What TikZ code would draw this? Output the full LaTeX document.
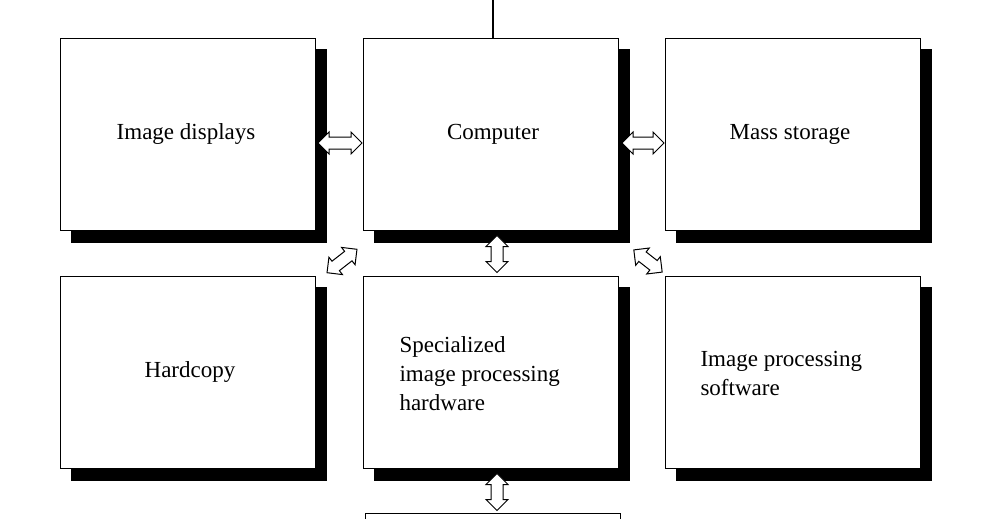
\documentclass[tikz,border=0pt]{standalone}
\usepackage{fontspec}
\setmainfont{Liberation Serif}
\usetikzlibrary{shapes.arrows}
\begin{document}
\begin{tikzpicture}[x=1pt,y=-1pt,
  box/.style={draw,line width=1.3pt,fill=white,minimum width=255pt,minimum height=192pt,anchor=north west,inner sep=0pt},
  shad/.style={fill=black},
  darr/.style={draw,line width=1pt,fill=white,shape=double arrow,double arrow head extend=5pt,inner sep=5.5pt,minimum height=#1},
  lbl/.style={font=\fontsize{23}{29}\selectfont}]
\useasboundingbox (0,0) rectangle (989,519);
\foreach \x/\y in {60/38,363/38,665/38,60/276,363/276,665/276,365/513}
  \fill[shad] (\x+11,\y+11) rectangle (\x+267,\y+205);
\node[box] (disp) at (60,38) {};
\node[box] (comp) at (363,38) {};
\node[box] (mass) at (665,38) {};
\node[box] (hard) at (60,276) {};
\node[box] (spec) at (363,276) {};
\node[box] (soft) at (665,276) {};
\node[box] (bot) at (365,513) {};
\node[lbl] at (186,134) {Image displays};
\node[lbl] at (493,134) {Computer};
\node[lbl] at (790,134) {Mass storage};
\node[lbl] at (190,372) {Hardcopy};
\node[lbl,align=left,anchor=west] at (396,374) {Specialized\\image processing\\hardware};
\node[lbl,align=left,anchor=west] at (697,373) {Image processing\\software};
\coordinate (top) at (493,0);
\draw[line width=1.3pt] (top) -- (comp.north -| top);
\node[darr=44pt] (a1) at (340,143) {};
\node[darr=42pt] (a2) at (643,143) {};
\node[darr=37pt,rotate=90] (a3) at (497,254) {};
\node[darr=38pt,rotate=38] (a4) at (342,261) {};
\node[darr=36pt,rotate=-38] (a5) at (648,261) {};
\node[darr=37pt,rotate=90] (a6) at (497,492) {};
\end{tikzpicture}
\end{document}
